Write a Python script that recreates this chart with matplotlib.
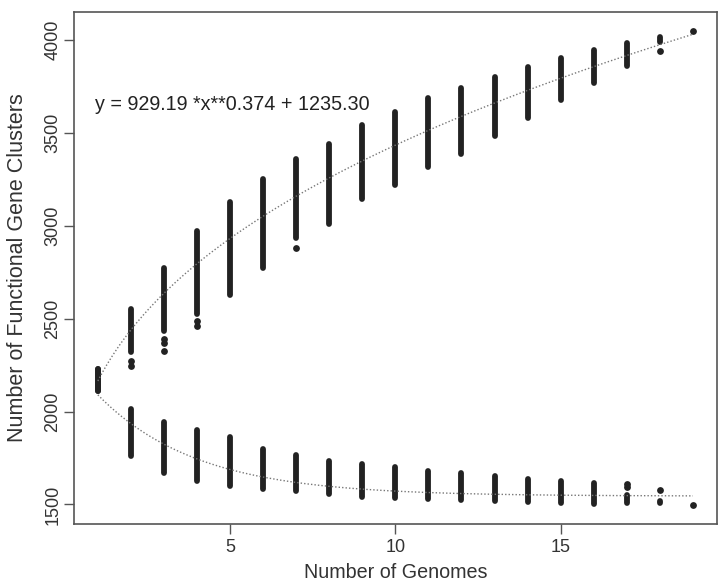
import numpy as np
import matplotlib.pyplot as plt

plt.rcParams['font.family'] = ['Liberation Sans', 'DejaVu Sans']

# genome counts
genomes = list(range(1, 20))

# pan genome: (low, high) of the sampled column at each genome count
pan_lo = [2110, 2318, 2432, 2524, 2627, 2772, 2932, 3008, 3143, 3220, 3317, 3388, 3483, 3578, 3677, 3768, 3860, 3987, 4050]
pan_hi = [2228, 2554, 2775, 2972, 3128, 3253, 3361, 3438, 3543, 3612, 3689, 3743, 3802, 3854, 3902, 3947, 3981, 4015, 4050]
# pan genome stray points below the columns
pan_out_x = [2, 2, 3, 3, 3, 4, 4, 7, 18, 19]
pan_out_y = [2270, 2245, 2392, 2370, 2328, 2485, 2462, 2880, 3941, 4050]

# core genome columns
core_lo = [2110, 1762, 1670, 1629, 1598, 1585, 1574, 1558, 1540, 1536, 1528, 1524, 1520, 1515, 1509, 1504, 1508, 1509, 1496]
core_hi = [2228, 2013, 1945, 1900, 1864, 1796, 1766, 1735, 1716, 1703, 1682, 1671, 1653, 1639, 1628, 1617, 1553, 1520, 1496]
# core genome stray points above the columns
core_out_x = [17, 17, 18, 19]
core_out_y = [1608, 1594, 1577, 1496]

# fitted models
pan_a, pan_b, pan_c = 929.19, 0.374, 1235.30
core_a, core_b, core_c = 761.0, 0.334, 1545.0

fig = plt.figure(figsize=(7.23, 5.86), dpi=100)
ax = fig.add_axes([0.1024, 0.1058, 0.8889, 0.8737])

pt_col = '#222222'
lw = 4.2

for x, lo, hi in zip(genomes, pan_lo, pan_hi):
    ax.plot([x, x], [lo, hi], color=pt_col, lw=lw, solid_capstyle='round')
for x, lo, hi in zip(genomes, core_lo, core_hi):
    ax.plot([x, x], [lo, hi], color=pt_col, lw=lw, solid_capstyle='round')
ax.scatter(pan_out_x, pan_out_y, s=24, color=pt_col, linewidths=0, zorder=3)
ax.scatter(core_out_x, core_out_y, s=24, color=pt_col, linewidths=0, zorder=3)

xs = np.linspace(1, 19, 200)
ax.plot(xs, pan_a * xs ** pan_b + pan_c, ls=(0, (1, 1.5)), color='#777777', lw=1.0)
ax.plot(xs, core_a * np.exp(-core_b * xs) + core_c, ls=(0, (1, 1.5)), color='#777777', lw=1.0)

ax.text(5.08, 3650, 'y = 929.19 *x**0.374 + 1235.30', ha='center', va='center',
        fontsize=14.2, color='#222222')

ax.set_xlim(0.28, 19.72)
ax.set_ylim(1395, 4150)
ax.set_xticks([5, 10, 15])
ax.set_yticks([1500, 2000, 2500, 3000, 3500, 4000])
ax.tick_params(length=7, width=1, color='#555555', labelsize=13, labelcolor='#333333', pad=4)
ax.tick_params(axis='y', pad=2)
for lab in ax.get_yticklabels():
    lab.set_rotation(90)
    lab.set_va('center')
for sp in ax.spines.values():
    sp.set_color('#555555')
    sp.set_linewidth(1.2)

ax.set_xlabel('Number of Genomes', fontsize=14.2, color='#333333', labelpad=5)
ax.set_ylabel('Number of Functional Gene Clusters', fontsize=15.5, color='#333333', labelpad=12)

fig.savefig('out.png', dpi=100)
